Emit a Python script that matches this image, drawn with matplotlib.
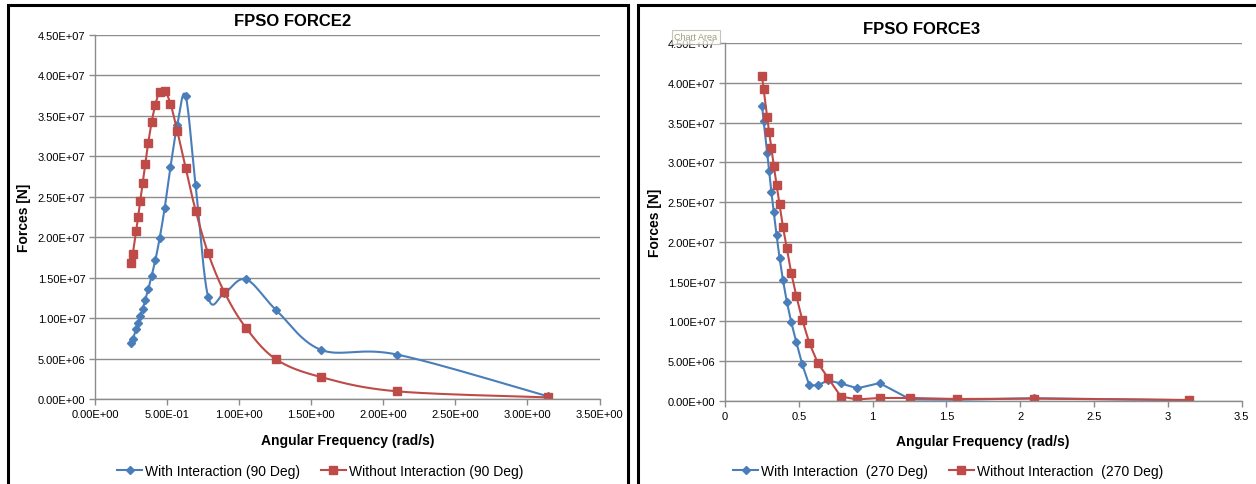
import numpy as np
import matplotlib
matplotlib.use('Agg')
import matplotlib.pyplot as plt
from matplotlib.patches import Rectangle

# wave periods (s) used for both headings; frequency = 2*pi/T
periods = [25, 24, 22, 21, 20, 19, 18, 17, 16, 15, 14, 13, 12, 11, 10, 9, 8, 7, 6, 5, 4, 3, 2]
omega = [2 * np.pi / t for t in periods]

# FPSO FORCE2, 90 deg heading (N)
f2_with = [6.9e6, 7.4e6, 8.6e6, 9.35e6, 1.02e7, 1.11e7, 1.23e7, 1.36e7, 1.52e7, 1.72e7,
           1.99e7, 2.36e7, 2.87e7, 3.39e7, 3.75e7, 2.64e7, 1.26e7, 1.31e7, 1.48e7, 1.10e7,
           6.06e6, 5.5e6, 3.3e5]
f2_without = [1.68e7, 1.79e7, 2.08e7, 2.25e7, 2.45e7, 2.67e7, 2.91e7, 3.17e7, 3.42e7, 3.64e7,
              3.80e7, 3.81e7, 3.65e7, 3.31e7, 2.86e7, 2.33e7, 1.80e7, 1.32e7, 8.8e6, 4.9e6,
              2.7e6, 9.5e5, 2.0e5]

# FPSO FORCE3, 270 deg heading (N)
f3_with = [3.71e7, 3.52e7, 3.12e7, 2.89e7, 2.63e7, 2.37e7, 2.09e7, 1.80e7, 1.52e7, 1.25e7,
           9.9e6, 7.4e6, 4.6e6, 1.97e6, 1.97e6, 2.6e6, 2.2e6, 1.6e6, 2.25e6, 2.0e5,
           1.5e5, 3.5e5, 1.0e5]
f3_without = [4.08e7, 3.92e7, 3.57e7, 3.38e7, 3.18e7, 2.96e7, 2.72e7, 2.47e7, 2.19e7, 1.92e7,
              1.61e7, 1.32e7, 1.02e7, 7.3e6, 4.8e6, 2.9e6, 5.5e5, 2.0e5, 3.8e5, 3.8e5,
              2.5e5, 3.0e5, 1.3e5]

y_ticks = np.arange(0, 4.5e7 + 1, 5e6)
x_ticks = np.arange(0, 3.5 + 0.01, 0.5)

BLUE = '#4A7EBB'
RED = '#BE4B48'
GRID = '#8C8C8C'
FONT = 'Liberation Sans'
W, H = 1256, 485


def smooth_xy(ax, x, y, n=24):
    # Excel-style smoothed line: cardinal bezier built in screen space
    pts = ax.transData.transform(np.column_stack([x, y]))
    p = np.vstack([pts[0], pts, pts[-1]])
    out = []
    t = np.linspace(0, 1, n)[:, None]
    for i in range(1, len(p) - 2):
        p0, p1, p2, p3 = p[i - 1], p[i], p[i + 1], p[i + 2]
        c1 = p1 + (p2 - p0) / 6
        c2 = p2 - (p3 - p1) / 6
        seg = ((1 - t) ** 3) * p1 + 3 * ((1 - t) ** 2) * t * c1 + 3 * (1 - t) * t ** 2 * c2 + t ** 3 * p2
        out.append(seg if i == 1 else seg[1:])
    curve = ax.transData.inverted().transform(np.vstack(out))
    return curve[:, 0], curve[:, 1]


def style_axes(ax, xfmt):
    ax.set_xlim(0, 3.5)
    ax.set_ylim(0, 4.5e7)
    ax.set_yticks(y_ticks)
    ax.set_yticklabels([f'{v:.2E}' for v in y_ticks], family=FONT, fontsize=8)
    ax.set_xticks(x_ticks)
    ax.set_xticklabels([xfmt(v) for v in x_ticks], family=FONT, fontsize=8)
    ax.grid(axis='y', color=GRID, lw=1.0)
    ax.set_axisbelow(True)
    for s in ['top', 'right']:
        ax.spines[s].set_visible(False)
    for s in ['left', 'bottom']:
        ax.spines[s].set_color(GRID)
        ax.spines[s].set_linewidth(1.0)
    ax.tick_params(axis='both', direction='out', length=4, color=GRID, width=1.0, pad=3)


def excel_sci(v):
    return f'{v:.2E}'


def plain(v):
    return f'{v:g}'


fig = plt.figure(figsize=(W / 100, H / 100), dpi=100)

# left chart: smoothed lines
ax1 = fig.add_axes([95 / W, 1 - 400 / H, 504.5 / W, 364 / H])
style_axes(ax1, excel_sci)
xs, ys = smooth_xy(ax1, omega, f2_with)
ax1.plot(xs, ys, color=BLUE, lw=1.5)
ax1.plot(omega, f2_with, ls='none', marker='D', ms=4, color=BLUE,
         label='With Interaction (90 Deg)')
xs, ys = smooth_xy(ax1, omega, f2_without)
ax1.plot(xs, ys, color=RED, lw=1.5)
ax1.plot(omega, f2_without, ls='none', marker='s', ms=5.5, color=RED,
         label='Without Interaction (90 Deg)')

# right chart: straight segments
ax2 = fig.add_axes([725 / W, 1 - 402 / H, 516.5 / W, 358 / H])
style_axes(ax2, plain)
ax2.plot(omega, f3_with, color=BLUE, lw=1.5, marker='D', ms=4,
         label='With Interaction  (270 Deg)')
ax2.plot(omega, f3_without, color=RED, lw=1.5, marker='s', ms=5.5,
         label='Without Interaction  (270 Deg)')

fig.text(293 / W, 1 - 21 / H, 'FPSO FORCE2', ha='center', va='center',
         fontsize=12, fontweight='bold', family=FONT)
fig.text(922 / W, 1 - 29 / H, 'FPSO FORCE3', ha='center', va='center',
         fontsize=12, fontweight='bold', family=FONT)

for cx, cy in [(348, 441), (983, 442)]:
    fig.text(cx / W, 1 - cy / H, 'Angular Frequency (rad/s)', ha='center', va='center',
             fontsize=10, fontweight='bold', family=FONT)
for cx, cy in [(24, 218), (655, 223)]:
    fig.text(cx / W, 1 - cy / H, 'Forces [N]', ha='center', va='center', rotation=90,
             fontsize=10, fontweight='bold', family=FONT)

for ax, cx in [(ax1, 320), (ax2, 948)]:
    h, l = ax.get_legend_handles_labels()
    h = [plt.Line2D([], [], color=hh.get_color(), lw=1.5, marker=hh.get_marker(),
                    ms=hh.get_markersize()) for hh in h]
    fig.legend(h, l, loc='center', bbox_to_anchor=(cx / W, 1 - 472 / H), ncol=2,
               frameon=False, prop={'family': FONT, 'size': 10},
               handlelength=1.8, handletextpad=0.2, columnspacing=1.5)

# chart-area tooltip left over the right chart's top label
fig.text(696 / W, 1 - 38 / H, 'Chart Area', ha='center', va='center', fontsize=6.5,
         color='#9A9A9A', family=FONT,
         bbox=dict(boxstyle='square,pad=0.25', fc='#FFFFF4', ec='#B0B0B0', lw=0.8, alpha=0.75))

# black frames around the two chart areas
fig.patches.append(Rectangle((7.5 / W, -0.1), (628 - 7.5) / W, 1.1 - 6 / H,
                             transform=fig.transFigure, fill=False, ec='black', lw=2.2))
fig.patches.append(Rectangle((638 / W, -0.1), 0.6, 1.1 - 6 / H,
                             transform=fig.transFigure, fill=False, ec='black', lw=2.2))

fig.savefig('out.png', dpi=100)
